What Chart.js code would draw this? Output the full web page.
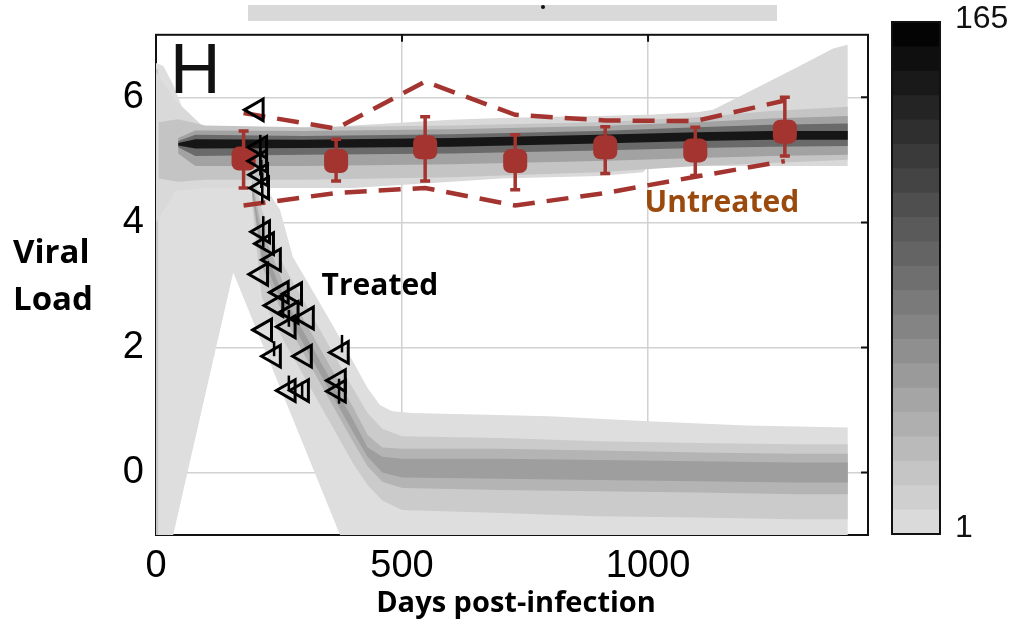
<!DOCTYPE html>
<html>
<head>
<meta charset="utf-8">
<title>Viral load after infection</title>
<script src="https://cdn.jsdelivr.net/npm/chart.js@4.4.1/dist/chart.umd.min.js"></script>
<style>
  html, body { margin: 0; padding: 0; background: #fff; }
  #wrap { width: 1021px; height: 626px; }
</style>
</head>
<body>
<div id="wrap"><canvas id="chart" width="1021" height="626"></canvas></div>
<script>
/* ============================================================
   Data
   ============================================================ */

const xTicks = [0, 500, 1000];
const yTicks = [0, 2, 4, 6];
const colorbarRange = [1, 165];

// Untreated cohort: visit mean, error range and dashed envelope
const untreatedDays = [178, 366, 547, 730, 913, 1096, 1278];
const untreatedMean = [5.02, 4.98, 5.2, 4.98, 5.2, 5.15, 5.45];
const untreatedLow  = [4.55, 4.66, 4.66, 4.52, 4.78, 4.75, 5.06];
const untreatedHigh = [5.46, 5.33, 5.69, 5.4, 5.53, 5.52, 6.0];
const envelopeUpper = [5.75, 5.5, 6.25, 5.72, 5.63, 5.62, 5.95];
const envelopeLower = [4.27, 4.47, 4.55, 4.27, 4.47, 4.73, 4.98];

// Treated patients (null = no bar)
const treatedDays = [205, 212, 212, 214, 216, 218, 226, 240, 214, 256, 283, 245, 276, 307, 222, 270, 240, 303, 378, 270, 297, 372, 372];
const treatedLoad = [5.8, 5.2, 4.98, 4.76, 4.55, 3.85, 3.66, 3.4, 3.17, 2.88, 2.86, 2.67, 2.56, 2.47, 2.28, 2.33, 1.86, 1.86, 1.92, 1.31, 1.31, 1.47, 1.3];
const treatedLow  = [null, 4.95, 4.75, 4.55, 4.3, 3.6, null, null, null, null, null, null, null, null, null, null, null, null, null, null, 1.2, null, 1.1];
const treatedHigh = [null, 5.4, 5.2, 5.0, 4.8, 4.1, null, null, null, null, null, null, null, null, null, 2.6, 2.1, null, 2.2, 1.55, 1.45, null, 1.5];

// Simulated trajectory density, outer edges first
const wedgeDays   = [0, 15, 35, 55, 100, 157, 191, 215, 252, 278, 330, 374, 430, 455, 480, 520, 800, 1000, 1200, 1406];
const wedgeTop    = [6.55, 6.5, 6.2, 5.8, 5.5, 5.42, 5.4, 4.65, 4.2, 3.45, 2.75, 2.15, 1.35, 1.08, 0.98, 0.95, 0.9, 0.82, 0.75, 0.72];
const wedgeBottom = [-1, -1, -1, -0.31, 1.24, 3.2, 2.54, 2.08, 1.36, 0.86, -0.15, -1, -1, -1, -1, -1, -1, -1, -1, -1];

const stripDays   = [0, 5];
const stripTop    = [6.45, 6.45];
const stripBottom = [-1, -1];

const plateauDays   = [0, 40, 100, 200, 400, 600, 700, 800, 900, 990, 1000, 1100, 1132, 1200, 1250, 1300, 1376, 1406];
const plateauTop    = [6.4, 5.95, 5.5, 5.45, 5.55, 5.64, 5.67, 5.69, 5.7, 5.72, 5.72, 5.76, 5.8, 6.07, 6.27, 6.47, 6.78, 6.84];
const plateauBottom = [4.0, 4.5, 4.55, 4.55, 4.55, 4.65, 4.7, 4.72, 4.74, 4.8, 4.9, 4.9, 4.9, 4.9, 4.9, 4.9, 4.9, 4.9];

const midDays   = [5, 45, 100, 300, 600, 900, 1100, 1250, 1406];
const midTop    = [5.6, 5.65, 5.55, 5.52, 5.55, 5.6, 5.68, 5.78, 5.85];
const midBottom = [4.7, 4.65, 4.68, 4.68, 4.72, 4.8, 4.9, 4.95, 5.0];

const darkDays    = [45, 80, 300, 600, 900, 1100, 1250, 1406];
const innerTop    = [5.35, 5.47, 5.46, 5.49, 5.54, 5.6, 5.66, 5.7];
const innerBottom = [5.1, 4.9, 4.9, 4.93, 4.98, 5.03, 5.06, 5.08];
const darkTop     = [5.3, 5.4, 5.38, 5.41, 5.46, 5.52, 5.56, 5.58];
const darkBottom  = [5.2, 5.06, 5.08, 5.1, 5.15, 5.19, 5.21, 5.22];
const coreTop     = [5.27, 5.33, 5.32, 5.35, 5.4, 5.44, 5.46, 5.46];
const coreBottom  = [5.23, 5.18, 5.19, 5.21, 5.26, 5.3, 5.32, 5.32];

const treatDays       = [195, 215, 260, 300, 350, 400, 430, 460, 500, 700, 900, 1100, 1300, 1406];
const treatTop        = [4.9, 4.2, 3.3, 2.75, 2.05, 1.35, 0.95, 0.7, 0.58, 0.55, 0.5, 0.47, 0.45, 0.45];
const treatBottom     = [4.3, 2.8, 2.1, 1.55, 0.85, 0.15, -0.2, -0.45, -0.6, -0.65, -0.7, -0.72, -0.75, -0.75];
const treatDarkTop    = [4.7, 3.9, 3.0, 2.45, 1.75, 1.05, 0.6, 0.4, 0.38, 0.38, 0.35, 0.32, 0.3, 0.3];
const treatDarkBottom = [4.45, 3.3, 2.5, 1.9, 1.2, 0.5, 0.1, -0.15, -0.25, -0.28, -0.3, -0.32, -0.35, -0.35];
const treatCoreTop    = [4.6, 3.7, 2.8, 2.25, 1.55, 0.85, 0.4, 0.25, 0.22, 0.22, 0.2, 0.18, 0.16, 0.16];
const treatCoreBottom = [4.5, 3.45, 2.65, 2.05, 1.35, 0.65, 0.25, 0.0, -0.08, -0.1, -0.12, -0.14, -0.16, -0.16];

/* ============================================================
   Styles
   ============================================================ */

const RED = '#a3342f';
const TICK_FONT = { family: '"Liberation Sans", Arial, sans-serif', size: 38 };
const LABEL_FONT = '"Open Sans", "Noto Sans", sans-serif';

const bands = [
  { days: wedgeDays,   top: wedgeTop,     bottom: wedgeBottom,     color: '#dedede' },
  { days: stripDays,   top: stripTop,     bottom: stripBottom,     color: '#c6c6c6' },
  { days: plateauDays, top: plateauTop,   bottom: plateauBottom,   color: '#d9d9d9' },
  { days: midDays,     top: midTop,       bottom: midBottom,       color: '#c4c4c4' },
  { days: treatDays,   top: treatTop,     bottom: treatBottom,     color: '#cbcbcb' },
  { days: treatDays,   top: treatDarkTop, bottom: treatDarkBottom, color: '#b4b4b4' },
  { days: treatDays,   top: treatCoreTop, bottom: treatCoreBottom, color: '#9e9e9e' },
  { days: darkDays,    top: innerTop,     bottom: innerBottom,     color: '#a2a2a2' },
  { days: darkDays,    top: darkTop,      bottom: darkBottom,      color: '#6a6a6a' },
  { days: darkDays,    top: coreTop,      bottom: coreBottom,      color: '#161616' }
];

const toPoints = (xs, ys) => xs.map((x, i) => ({ x: x, y: ys[i] }));

function buildDatasets() {
  const datasets = [];

  // density bands: hidden lower edge + filled upper edge
  bands.forEach((b, i) => {
    const lowIdx = datasets.length;
    datasets.push({
      data: toPoints(b.days, b.bottom),
      borderWidth: 0, borderColor: 'rgba(0,0,0,0)', pointRadius: 0,
      fill: false, order: 100 - i * 2
    });
    datasets.push({
      data: toPoints(b.days, b.top),
      borderWidth: 0, borderColor: 'rgba(0,0,0,0)', backgroundColor: b.color,
      pointRadius: 0, fill: { target: lowIdx }, order: 99 - i * 2
    });
  });

  // dashed untreated envelope
  [envelopeUpper, envelopeLower].forEach(vals => {
    datasets.push({
      data: toPoints(untreatedDays, vals),
      borderColor: RED, borderWidth: 4.5, borderDash: [22, 12],
      pointRadius: 0, fill: false, order: 6
    });
  });

  // untreated visit means
  datasets.push({
    data: toPoints(untreatedDays, untreatedMean),
    showLine: false, pointStyle: 'rectRounded', pointRadius: 14,
    pointBackgroundColor: RED, pointBorderWidth: 0,
    errLow: untreatedLow, errHigh: untreatedHigh,
    errColor: RED, errWidth: 3.5, errCap: 5, order: 4
  });

  // treated patients
  datasets.push({
    data: toPoints(treatedDays, treatedLoad),
    showLine: false, pointStyle: 'triangle', pointRotation: -90, pointRadius: 12.5,
    pointBackgroundColor: 'rgba(0,0,0,0)', pointBorderColor: '#000', pointBorderWidth: 3,
    errLow: treatedLow, errHigh: treatedHigh,
    errColor: '#000', errWidth: 2.5, errCap: 0, order: 1
  });

  return datasets;
}

/* ============================================================
   Plugins
   ============================================================ */

// box around the plot with inward ticks on top and right
const framePlugin = {
  id: 'frame',
  beforeDatasetsDraw(chart) {
    const { ctx, chartArea: a, scales: { x, y } } = chart;
    ctx.save();
    ctx.strokeStyle = '#111';
    ctx.lineWidth = 2;
    ctx.strokeRect(a.left, a.top, a.right - a.left, a.bottom - a.top);
    ctx.beginPath();
    xTicks.forEach(v => {
      const px = x.getPixelForValue(v);
      ctx.moveTo(px, a.top); ctx.lineTo(px, a.top + 7);
    });
    yTicks.forEach(v => {
      const py = y.getPixelForValue(v);
      ctx.moveTo(a.right, py); ctx.lineTo(a.right - 7, py);
    });
    ctx.stroke();
    ctx.restore();
  }
};

// vertical error bars, drawn just under their markers
const errorBarPlugin = {
  id: 'errorBars',
  beforeDatasetDraw(chart, args) {
    const ds = chart.data.datasets[args.index];
    if (!ds.errLow) return;
    const { ctx, scales: { x, y } } = chart;
    ctx.save();
    ctx.strokeStyle = ds.errColor;
    ctx.lineWidth = ds.errWidth;
    ds.data.forEach((p, k) => {
      const lo = ds.errLow[k] != null ? ds.errLow[k] : p.y;
      const hi = ds.errHigh[k] != null ? ds.errHigh[k] : p.y;
      if (lo === hi) return;
      const px = x.getPixelForValue(p.x);
      const pLo = y.getPixelForValue(lo);
      const pHi = y.getPixelForValue(hi);
      ctx.beginPath();
      ctx.moveTo(px, pLo); ctx.lineTo(px, pHi);
      if (ds.errCap) {
        ctx.moveTo(px - ds.errCap, pLo); ctx.lineTo(px + ds.errCap, pLo);
        ctx.moveTo(px - ds.errCap, pHi); ctx.lineTo(px + ds.errCap, pHi);
      }
      ctx.stroke();
    });
    ctx.restore();
  }
};

// colour bar, panel letter, annotations and axis titles
const decorPlugin = {
  id: 'decor',
  afterDraw(chart) {
    const { ctx, scales: { x, y } } = chart;
    ctx.save();

    // strip left over from the panel above
    ctx.fillStyle = '#d9d9d9';
    ctx.fillRect(248, 5, 529, 16);
    ctx.fillStyle = '#111';
    ctx.beginPath(); ctx.arc(543, 7, 2, 0, Math.PI * 2); ctx.fill();

    // colour bar
    const cb = { left: 892, top: 22, width: 48, height: 512 };
    const steps = 21;
    for (let i = 0; i < steps; i++) {
      const g = Math.round(4 + (218 - 4) * i / (steps - 1));
      ctx.fillStyle = `rgb(${g},${g},${g})`;
      const y0 = cb.top + cb.height * i / steps;
      ctx.fillRect(cb.left, y0, cb.width, cb.height / steps + 1);
    }
    ctx.strokeStyle = '#111';
    ctx.lineWidth = 2;
    ctx.strokeRect(cb.left, cb.top, cb.width, cb.height);
    ctx.fillStyle = '#111';
    ctx.font = '32px "Liberation Sans", Arial, sans-serif';
    ctx.textAlign = 'left';
    ctx.textBaseline = 'middle';
    ctx.fillText(String(colorbarRange[1]), 955, 19);
    ctx.fillText(String(colorbarRange[0]), 955, 528);

    // panel letter
    ctx.font = '70px "Liberation Sans", Arial, sans-serif';
    ctx.textBaseline = 'alphabetic';
    ctx.fillText('H', 170, 93);

    // annotations
    ctx.textAlign = 'center';
    ctx.textBaseline = 'middle';
    ctx.font = `bold 30px ${LABEL_FONT}`;
    ctx.fillStyle = '#000';
    ctx.fillText('Treated', x.getPixelForValue(455), y.getPixelForValue(2.97));
    ctx.fillStyle = '#9b4a0e';
    ctx.fillText('Untreated', x.getPixelForValue(1150), y.getPixelForValue(4.3));

    // axis titles
    ctx.fillStyle = '#000';
    ctx.font = `bold 33px ${LABEL_FONT}`;
    ctx.textAlign = 'left';
    ctx.fillText('Viral', 13, 254);
    ctx.fillText('Load', 13, 301);
    ctx.textAlign = 'center';
    ctx.font = `bold 29px ${LABEL_FONT}`;
    ctx.fillText('Days post-infection', 516, 604);

    ctx.restore();
  }
};

/* ============================================================
   Chart
   ============================================================ */

new Chart(document.getElementById('chart'), {
  type: 'line',
  data: { datasets: buildDatasets() },
  options: {
    responsive: false,
    devicePixelRatio: 1,
    animation: false,
    events: [],
    elements: { line: { tension: 0 } },
    layout: { padding: { top: 23, right: 153, left: 0, bottom: 0 } },
    plugins: {
      legend: { display: false },
      tooltip: { enabled: false }
    },
    scales: {
      x: {
        type: 'linear',
        min: 0,
        max: 1447,
        afterFit(scale) { scale.height = 91; },
        afterBuildTicks(scale) { scale.ticks = xTicks.map(v => ({ value: v })); },
        ticks: { font: TICK_FONT, color: '#000', padding: 9, maxRotation: 0, callback: v => String(v) },
        grid: { color: '#d2d2d2', lineWidth: 1.5, drawTicks: false },
        border: { display: false }
      },
      y: {
        type: 'linear',
        min: -1,
        max: 7,
        afterFit(scale) { scale.width = 156; },
        afterBuildTicks(scale) { scale.ticks = yTicks.map(v => ({ value: v })); },
        ticks: { font: TICK_FONT, color: '#000', padding: 12, callback: v => String(v) },
        grid: { color: '#d2d2d2', lineWidth: 1.5, drawTicks: false },
        border: { display: false }
      }
    }
  },
  plugins: [framePlugin, errorBarPlugin, decorPlugin]
});
</script>
</body>
</html>
